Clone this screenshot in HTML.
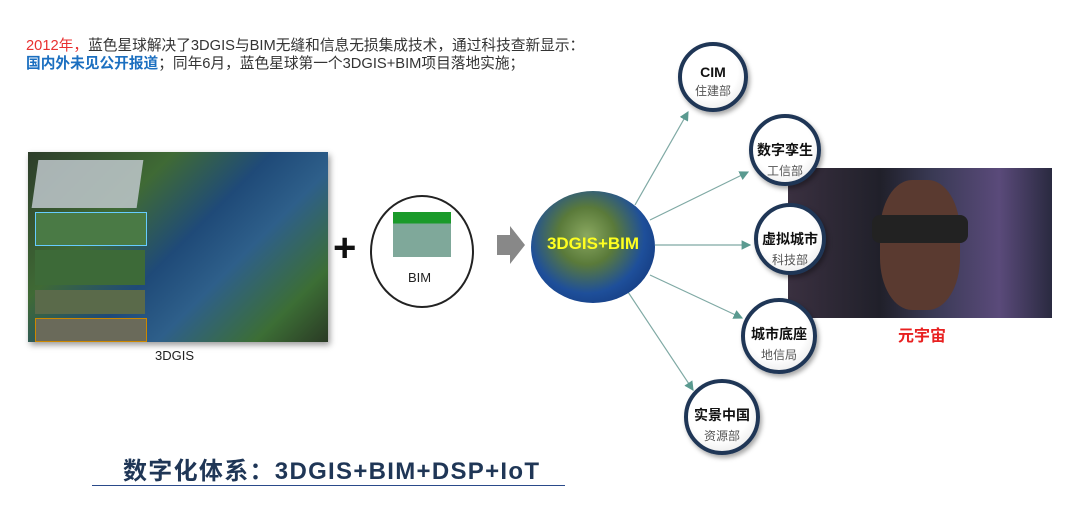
<!DOCTYPE html>
<html><head><meta charset="utf-8"><style>
body{margin:0;width:1080px;height:515px;background:#fff;position:relative;overflow:hidden;font-family:"Liberation Sans","Noto Sans CJK SC",sans-serif}
.a{position:absolute}
.node{position:absolute;border-radius:50%;border:4px solid #1f3656;background:radial-gradient(circle at 45% 40%,#fff 55%,#ddd 100%);box-shadow:2px 3px 5px rgba(0,0,0,.35);text-align:center;box-sizing:border-box}
.node b{display:block;font-size:14px;color:#111;margin-top:22px}
.node span{display:block;font-size:12px;color:#555;margin-top:2px}
</style></head><body>
<div class="a" style="left:26px;top:37px;font-size:14.7px;color:#333;line-height:18px;white-space:nowrap">
<span style="color:#e83030">2012年，</span>蓝色星球解决了3DGIS与BIM无缝和信息无损集成技术，通过科技查新显示：<br>
<b style="color:#1b6fc0">国内外未见公开报道</b>；同年6月，蓝色星球第一个3DGIS+BIM项目落地实施；</div>

<div class="a" style="left:28px;top:152px;width:300px;height:190px;background:linear-gradient(135deg,#2d3d2a 0%,#3f6a35 30%,#1f4a78 50%,#2e5f8a 65%,#3c6e35 85%,#2a3a25 100%);box-shadow:2px 3px 6px rgba(0,0,0,.4)"></div>
<div class="a" style="left:35px;top:160px;width:105px;height:48px;background:#bfc8cc;opacity:.85;transform:skewX(-8deg)"></div>
<div class="a" style="left:35px;top:212px;width:110px;height:32px;background:#4a7a45;border:1px solid #6cf"></div>
<div class="a" style="left:35px;top:250px;width:110px;height:35px;background:#3d6a38"></div>
<div class="a" style="left:35px;top:290px;width:110px;height:24px;background:#5a6a4a"></div>
<div class="a" style="left:35px;top:318px;width:110px;height:22px;background:#6a6a5a;border:1px solid #c80"></div>
<div class="a" style="left:155px;top:348px;font-size:13px;color:#222">3DGIS</div>

<div class="a" style="left:333px;top:228px;font-size:40px;font-weight:bold;color:#111;line-height:40px">+</div>
<div class="a" style="left:370px;top:195px;width:104px;height:113px;border:2px solid #222;border-radius:50%;box-sizing:border-box;background:#fff"></div>
<div class="a" style="left:393px;top:212px;width:58px;height:45px;background:linear-gradient(#1a9a2a 0 25%,#7fa89a 25% 100%)"></div>
<div class="a" style="left:408px;top:270px;font-size:13px;color:#222">BIM</div>

<svg class="a" style="left:0;top:0" width="1080" height="515">
<polygon points="497,235 510,235 510,226 525,245 510,264 510,255 497,255" fill="#888"/>
<defs><marker id="m" markerWidth="8" markerHeight="8" refX="7" refY="4" orient="auto"><path d="M0,0 L8,4 L0,8z" fill="#5a9a90"/></marker></defs>
<g stroke="#7fa9a4" stroke-width="1.2" fill="none" marker-end="url(#m)">
<line x1="635" y1="205" x2="688" y2="112"/>
<line x1="650" y1="220" x2="748" y2="172"/>
<line x1="655" y1="245" x2="750" y2="245"/>
<line x1="650" y1="275" x2="742" y2="318"/>
<line x1="628" y1="292" x2="693" y2="390"/>
</g></svg>
<div class="a" style="left:531px;top:191px;width:124px;height:112px;border-radius:50%;background:radial-gradient(circle at 45% 40%,#8aa860 0%,#5a7a3a 30%,#1e4f9a 60%,#0c2a6a 100%)"></div>
<div class="a" style="left:528px;top:234px;width:130px;text-align:center;font-size:17px;font-weight:bold;color:#ffff20">3DGIS+BIM</div>

<div class="a" style="left:788px;top:168px;width:264px;height:150px;background:linear-gradient(90deg,#3a3040 0%,#20202a 35%,#3a3a55 55%,#5a4a7a 80%,#2a2a40 100%)"></div>
<div class="a" style="left:880px;top:180px;width:80px;height:130px;border-radius:40%;background:#5a3a30"></div>
<div class="a" style="left:872px;top:215px;width:96px;height:28px;background:#222;border-radius:8px"></div>
<div class="a" style="left:898px;top:322px;font-size:16px;font-weight:bold;color:#e82020">元宇宙</div>

<div class="node" style="left:678px;top:42px;width:70px;height:70px"><b style="margin-top:18px">CIM</b><span>住建部</span></div>
<div class="node" style="left:749px;top:114px;width:72px;height:72px"><b>数字孪生</b><span>工信部</span></div>
<div class="node" style="left:754px;top:203px;width:72px;height:72px"><b>虚拟城市</b><span>科技部</span></div>
<div class="node" style="left:741px;top:298px;width:76px;height:76px"><b>城市底座</b><span>地信局</span></div>
<div class="node" style="left:684px;top:379px;width:76px;height:76px"><b>实景中国</b><span>资源部</span></div>

<div class="a" style="left:123px;top:451px;font-size:24px;font-weight:bold;color:#1f3656;white-space:nowrap;letter-spacing:1.3px">数字化体系：3DGIS+BIM+DSP+IoT</div>
<div class="a" style="left:92px;top:485px;width:473px;height:1px;background:#2a4a8a"></div>
</body></html>
